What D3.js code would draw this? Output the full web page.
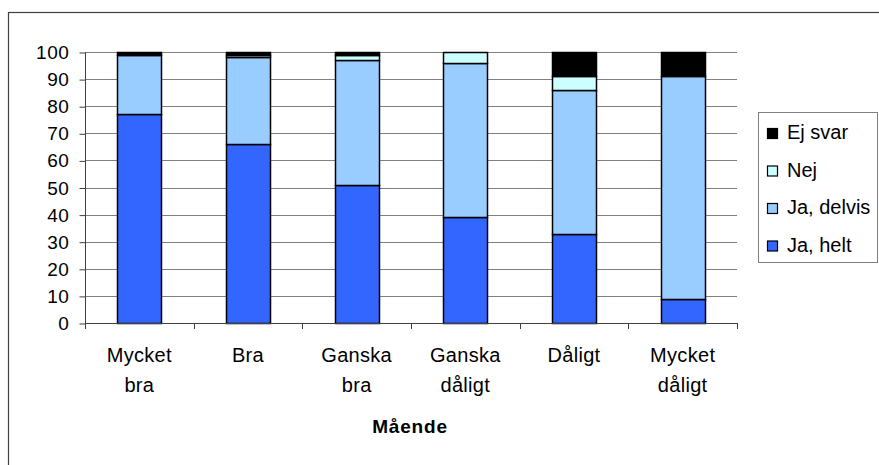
<!DOCTYPE html>
<html>
<head>
<meta charset="utf-8">
<script src="https://cdn.jsdelivr.net/npm/d3@7"></script>
<style>
  html, body { margin: 0; padding: 0; background: #fff; }
  svg { display: block; font-family: "Liberation Sans", Arial, sans-serif; }
</style>
</head>
<body>
<svg id="chart" width="879" height="465"></svg>
<script>
// ---- data ----
const categories = [["Mycket", "bra"], ["Bra"], ["Ganska", "bra"], ["Ganska", "dåligt"], ["Dåligt"], ["Mycket", "dåligt"]];
const seriesNames = ["Ja, helt", "Ja, delvis", "Nej", "Ej svar"];
const jaHelt   = [77, 66, 51, 39, 33, 9];
const jaDelvis = [22, 32, 46, 57, 53, 82];
const nej      = [0, 1, 2, 4, 5, 0];
const ejSvar   = [1, 1, 1, 0, 9, 9];
const yTicks   = [0, 10, 20, 30, 40, 50, 60, 70, 80, 90, 100];
const axisTitle = "Mående";
const colors = ["#3366FF", "#99CCFF", "#CCFFFF", "#000000"];

// ---- build table ----
const keys = ["helt", "delvis", "nej", "ej"];
const table = categories.map((c, i) => ({
  cat: c.join(" "), lines: c,
  helt: jaHelt[i], delvis: jaDelvis[i], nej: nej[i], ej: ejSvar[i]
}));

const svg = d3.select("#chart");

// outer chart border
svg.append("rect").attr("x", 8.5).attr("y", 12.5).attr("width", 900).attr("height", 500)
  .attr("fill", "none").attr("stroke", "#404040").attr("stroke-width", 1.2);

const x = d3.scaleBand().domain(table.map(d => d.cat)).range([85, 737])
  .paddingInner(0.595).paddingOuter(0.2975);
const y = d3.scaleLinear().domain([0, 100]).range([323, 52]);

// gridlines
svg.append("g").selectAll("line").data(yTicks.filter(t => t > 0)).join("line")
  .attr("x1", 85).attr("x2", 737)
  .attr("y1", d => Math.round(y(d)) + 0.5).attr("y2", d => Math.round(y(d)) + 0.5)
  .attr("stroke", "#808080").attr("stroke-width", 1.2);

// stacked bars
const stack = d3.stack().keys(keys)(table);
svg.append("g").selectAll("g").data(stack).join("g")
  .attr("fill", (d, i) => colors[i])
  .selectAll("rect").data(d => d.filter(s => s[1] - s[0] > 0)).join("rect")
  .attr("x", d => Math.round(x(d.data.cat)) + 0.5)
  .attr("width", Math.round(x.bandwidth()))
  .attr("y", d => Math.round(y(d[1])) + 0.5)
  .attr("height", d => Math.round(y(d[0])) - Math.round(y(d[1])))
  .attr("stroke", "#000").attr("stroke-width", 1.5);

// y axis
const yAxis = d3.axisLeft(y).tickValues(yTicks).tickSize(6).tickPadding(10).tickFormat(d3.format("d"));
const gy = svg.append("g").attr("transform", "translate(85.5,0.5)").call(yAxis);
gy.select(".domain").attr("stroke", "#404040").attr("d", "M0," + y(0) + "V" + y(100));
gy.selectAll(".tick line").attr("stroke", "#404040");
gy.selectAll(".tick text").attr("font-size", 19).attr("fill", "#000")
  .attr("font-family", "Liberation Sans, Arial, sans-serif").attr("letter-spacing", 0.6);

// x axis
const boundaries = d3.range(7).map(i => 85 + i * x.step());
const gx = svg.append("g");
gx.append("line").attr("x1", 85).attr("x2", 737).attr("y1", Math.round(y(0)) + 0.5).attr("y2", Math.round(y(0)) + 0.5)
  .attr("stroke", "#404040").attr("stroke-width", 1.2);
gx.selectAll("line.tk").data(boundaries).join("line").attr("class", "tk")
  .attr("x1", d => Math.round(d) + 0.5).attr("x2", d => Math.round(d) + 0.5)
  .attr("y1", y(0)).attr("y2", y(0) + 6).attr("stroke", "#404040");

const lab = svg.append("g").selectAll("text").data(table).join("text")
  .attr("text-anchor", "middle").attr("font-size", 20).attr("fill", "#000")
  .attr("letter-spacing", 0.3)
  .attr("x", d => x(d.cat) + x.bandwidth() / 2);
lab.selectAll("tspan").data(d => d.lines.map((l, i) => ({ l, i, cx: x(d.cat) + x.bandwidth() / 2 }))).join("tspan")
  .attr("x", d => d.cx).attr("y", d => 362 + d.i * 30).text(d => d.l);

svg.append("text").attr("x", 410).attr("y", 433).attr("text-anchor", "middle")
  .attr("font-size", 19).attr("font-weight", "bold").attr("letter-spacing", 0.8).text(axisTitle);

// legend
const lg = svg.append("g");
lg.append("rect").attr("x", 758.5).attr("y", 112.5).attr("width", 119).attr("height", 150)
  .attr("fill", "#fff").attr("stroke", "#808080");
const legendOrder = [3, 2, 1, 0];
const li = lg.selectAll("g.item").data(legendOrder).join("g").attr("class", "item")
  .attr("transform", (d, i) => "translate(0," + (i * 37.5) + ")");
li.append("rect").attr("x", 767.5).attr("y", 128.5).attr("width", 10).attr("height", 10)
  .attr("fill", d => colors[d]).attr("stroke", "#000").attr("stroke-width", 1.2);
li.append("text").attr("x", 787).attr("y", 139).attr("font-size", 20).attr("fill", "#000")
  .text(d => seriesNames[d]);
</script>
</body>
</html>
